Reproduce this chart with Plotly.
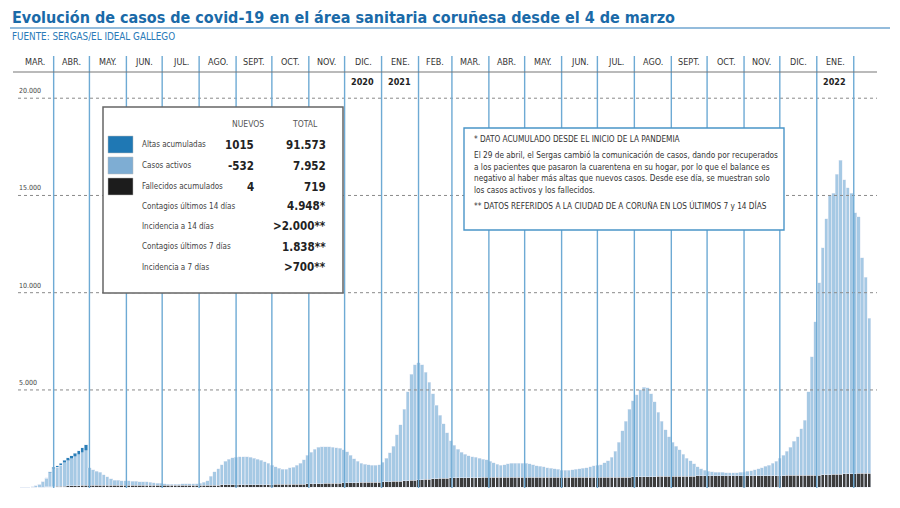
import pandas as pd
import plotly.graph_objects as go

# barras cada 3 dias desde el 4 de marzo de 2020
inicio = "2020-03-05"
paso_dias = 3

activos = [
    3, 5, 10, 25, 80, 155, 270, 445, 720,
    930, 980, 1080, 1200, 1300, 1390, 1490, 1580, 1680, 1780,
    895, 800, 720, 660, 540, 430, 330, 265, 245, 235,
    225, 215, 205, 195, 185, 175, 165, 145, 125, 105,
    85, 65, 55, 55, 55, 55, 62, 62, 72, 82, 82,
    100, 150, 220, 450, 670, 835, 1035, 1215, 1325, 1395,
    1420, 1440, 1450, 1445, 1415, 1360, 1310, 1250, 1165, 1085,
    1000, 900, 820, 775, 780, 840, 885, 965, 1080, 1260,
    1475, 1630, 1775, 1870, 1900, 1885, 1880, 1855, 1820, 1785,
    1710, 1595, 1420, 1235, 1090, 995, 920, 890, 875, 880,
    885, 1020, 1210, 1490, 1805, 2395, 2885, 3675, 4560, 5450,
    5935, 6010, 5910, 5495, 4980, 4370, 3760, 3250, 2790, 2330,
    1925, 1670, 1465, 1310, 1210, 1135, 1075, 1030, 980, 930, 900,
    830, 745, 665, 635, 645, 695, 725, 735, 735, 720,
    720, 690, 640, 600, 580, 540, 490, 460, 430, 400,
    370, 365, 370, 375, 405, 435, 465, 485, 535, 580,
    620, 640, 730, 830, 1030, 1330, 1780, 2375, 2875, 3475, 3925,
    4220, 4470, 4615, 4580, 4255, 3850, 3300, 2845, 2395, 2040, 1740,
    1535, 1355, 1130, 930, 775, 625, 485, 370, 290, 240,
    205, 185, 180, 170, 165, 160, 155, 160, 165, 185,
    215, 255, 305, 350, 410, 480, 540, 630, 730, 890,
    1050, 1245, 1445, 1745, 1990, 2390, 2835, 4285, 6080, 7880,
    9875, 11670, 13160, 14350, 14445, 15435, 16130, 15120, 14715, 14410,
    13400, 13195, 11090, 10085, 7980,
]

fallecidos = [
    0, 0, 0, 0, 2, 5, 10, 15, 22,
    30, 40, 50, 58, 65, 72, 78, 84, 88, 92,
    95, 97, 99, 100, 101, 102, 103, 104, 104, 105,
    105, 105, 105, 106, 106, 106, 106, 106, 106, 106,
    106, 107, 107, 107, 108, 108, 108, 108, 108, 108, 108,
    108, 109, 110, 111, 112, 113, 114, 115, 115, 116,
    118, 120, 122, 124, 126, 128, 130, 132, 134, 136,
    138, 140, 142, 145, 148, 150, 153, 155, 158, 160,
    165, 170, 176, 182, 188, 194, 200, 205, 210, 215,
    220, 225, 230, 235, 240, 244, 248, 252, 256, 260,
    265, 272, 280, 288, 296, 305, 315, 325, 338, 350,
    365, 380, 392, 405, 418, 430, 442, 452, 460, 468,
    475, 480, 484, 488, 491, 494, 496, 498, 499, 500, 501,
    502, 503, 504, 505, 505, 506, 506, 507, 507, 508,
    508, 509, 509, 510, 510, 511, 511, 512, 512, 513,
    513, 514, 514, 515, 515, 516, 516, 517, 517, 518,
    519, 520, 520, 521, 521, 522, 522, 523, 523, 524, 525,
    528, 532, 536, 540, 544, 548, 551, 554, 557, 559, 561,
    565, 567, 569, 571, 573, 575, 577, 578, 579, 580,
    585, 586, 587, 588, 589, 590, 591, 592, 593, 594,
    595, 596, 597, 598, 599, 599, 600, 600, 600, 600,
    601, 603, 605, 607, 609, 611, 613, 615, 618, 620,
    625, 632, 640, 648, 656, 664, 672, 680, 686, 692,
    700, 705, 710, 715, 719,
]

# altas acumuladas: solo hasta el 28 de abril de 2020
altas = [0, 0, 0, 0, 0, 0, 0, 20, 40, 60, 80, 100, 120, 140, 160, 190, 220, 260, 300]

meses = ["MAR.", "ABR.", "MAY.", "JUN.", "JUL.", "AGO.", "SEPT.", "OCT.", "NOV.", "DIC.",
         "ENE.", "FEB.", "MAR.", "ABR.", "MAY.", "JUN.", "JUL.", "AGO.", "SEPT.", "OCT.", "NOV.", "DIC.",
         "ENE."]
anios = {"2020": "2020-12-16", "2021": "2021-01-16", "2022": "2022-01-16"}

niveles = [5000, 10000, 15000, 20000]
niveles_txt = ["5.000", "10.000", "15.000", "20.000"]

filas_tabla = [
    ("Altas acumuladas", "1015", "91.573", "#1f78b4"),
    ("Casos activos", "-532", "7.952", "#7eadd3"),
    ("Fallecidos acumulados", "4", "719", "#1c1c1c"),
]
filas_extra = [
    ("Contagios últimos 14 días", "4.948*"),
    ("Incidencia a 14 días", ">2.000**"),
    ("Contagios últimos 7 días", "1.838**"),
    ("Incidencia a 7 días", ">700**"),
]

nota = [
    "* DATO ACUMULADO DESDE EL INICIO DE LA PANDEMIA",
    "El 29 de abril, el Sergas cambió la comunicación de casos, dando por recuperados",
    "a los pacientes que pasaron la cuarentena en su hogar, por lo que el balance es",
    "negativo al haber más altas que nuevos casos. Desde ese día, se muestran solo",
    "los casos activos y los fallecidos.",
    "** DATOS REFERIDOS A LA CIUDAD DE A CORUÑA EN LOS ÚLTIMOS 7 y 14 DÍAS",
]

FONT = "Liberation Sans Narrow, DejaVu Sans Condensed, Roboto, sans-serif"
W, H = 900, 508
L, R, T, B = 13, 23, 56, 20

fechas = pd.date_range(inicio, periods=len(activos), freq=f"{paso_dias}D")
ancho = 2.8 * 86400000


def px(x):
    return (x - L) / (W - L - R)


def py(y):
    return (H - B - y) / (H - T - B)


def texto(t, x, y, size, color="#333", xa="left", bold=False):
    if bold:
        t = "<b>" + t + "</b>"
    return dict(text=t, xref="paper", yref="paper", x=px(x), y=py(y), xanchor=xa, yanchor="middle",
                showarrow=False, font=dict(size=size, color=color, family=FONT))


fig = go.Figure()
fig.add_trace(go.Bar(x=fechas, y=fallecidos, width=ancho, marker_color="#3c3c3c", name="Fallecidos"))
fig.add_trace(go.Bar(x=fechas, y=activos, width=ancho, marker_color="#a6c9e4", name="Activos"))
fig.add_trace(go.Bar(x=fechas[:len(altas)], y=altas, width=ancho, marker_color="#2a7fb8", name="Altas"))

shapes = []
ann = []

# lineas de referencia punteadas
for v, t in zip(niveles, niveles_txt):
    shapes.append(dict(type="line", xref="paper", yref="y", x0=px(18), x1=1, y0=v, y1=v,
                       line=dict(color="#8a8a8a", width=1, dash="dot"), layer="above"))
    ann.append(dict(text=t, xref="paper", yref="y", x=px(17), y=v, xanchor="left", yanchor="bottom",
                    yshift=1, showarrow=False, font=dict(size=7, color="#444", family=FONT)))

# separadores de meses
inicios_mes = pd.date_range("2020-03-01", "2022-02-01", freq="MS")
for d in inicios_mes[1:]:
    shapes.append(dict(type="line", xref="x", yref="paper", x0=d, x1=d, y0=0, y1=1,
                       line=dict(color="#6eaad4", width=1.4), layer="above"))
for i, m in enumerate(meses):
    centro = inicios_mes[i] + (inicios_mes[i + 1] - inicios_mes[i]) / 2
    ann.append(dict(text=m, xref="x", yref="paper", x=centro, y=py(62), xanchor="center", yanchor="middle",
                    showarrow=False, font=dict(size=9, color="#333", family=FONT)))
for a, d in anios.items():
    ann.append(dict(text="<b>" + a + "</b>", xref="x", yref="paper", x=pd.Timestamp(d), y=py(82),
                    xanchor="center", yanchor="middle", showarrow=False,
                    font=dict(size=9, color="#222", family=FONT)))
shapes.append(dict(type="line", xref="paper", yref="paper", x0=0, x1=1, y0=py(72), y1=py(72),
                   line=dict(color="#777", width=1.2), layer="above"))

# titulo
ann.append(texto("Evolución de casos de covid-19 en el área sanitaria coruñesa desde el 4 de marzo",
                 10, 17, 16, "#1a6aa8", bold=True))
ann.append(texto("FUENTE: SERGAS/EL IDEAL GALLEGO", 10, 36, 9.8, "#2a7ab8"))
shapes.append(dict(type="line", xref="paper", yref="paper", x0=px(10), x1=px(890), y0=py(28), y1=py(28),
                   line=dict(color="#2b7bba", width=1.2), layer="above"))

# cuadro de datos
shapes.append(dict(type="rect", xref="paper", yref="paper", x0=px(103), x1=px(343), y0=py(107), y1=py(293),
                   line=dict(color="#666", width=1.5), fillcolor="white", layer="above"))
ann.append(texto("NUEVOS", 248, 124, 8.5, "#555", xa="center"))
ann.append(texto("TOTAL", 305, 124, 8.5, "#555", xa="center"))
for i, (lab, nuevo, total, col) in enumerate(filas_tabla):
    yc = 144.5 + 21 * i
    shapes.append(dict(type="rect", xref="paper", yref="paper", x0=px(108), x1=px(133),
                       y0=py(yc - 8.5), y1=py(yc + 8.5), line=dict(color="#bbb", width=0.5),
                       fillcolor=col, layer="above"))
    ann.append(texto(lab, 140, yc, 8, "#444"))
    ann.append(texto(nuevo, 256, yc, 11.5, "#222", xa="right", bold=True))
    ann.append(texto(total, 328, yc, 11.5, "#222", xa="right", bold=True))
for i, (lab, total) in enumerate(filas_extra):
    yc = 206 + 20.4 * i
    ann.append(texto(lab, 140, yc, 8, "#444"))
    ann.append(texto(total, 328, yc, 11.5, "#222", xa="right", bold=True))

# cuadro de notas
shapes.append(dict(type="rect", xref="paper", yref="paper", x0=px(464), x1=px(784), y0=py(128), y1=py(230),
                   line=dict(color="#4a95c8", width=1.4), fillcolor="white", layer="above"))
for t, yy in zip(nota, [139, 155, 166.5, 178, 189.5, 205]):
    ann.append(texto(t, 472, yy, 8.2, "#333"))

fig.update_layout(
    width=W, height=H, barmode="stack", showlegend=False,
    margin=dict(l=L, r=R, t=T, b=B),
    paper_bgcolor="white", plot_bgcolor="white",
    xaxis=dict(range=["2020-02-26 21:36", "2022-02-20 12:00"], visible=False),
    yaxis=dict(range=[-41, 22170], visible=False),
    shapes=shapes, annotations=ann,
)
fig.write_html("out.html", config={"displayModeBar": False},
               post_script="document.body.style.margin='0';")
